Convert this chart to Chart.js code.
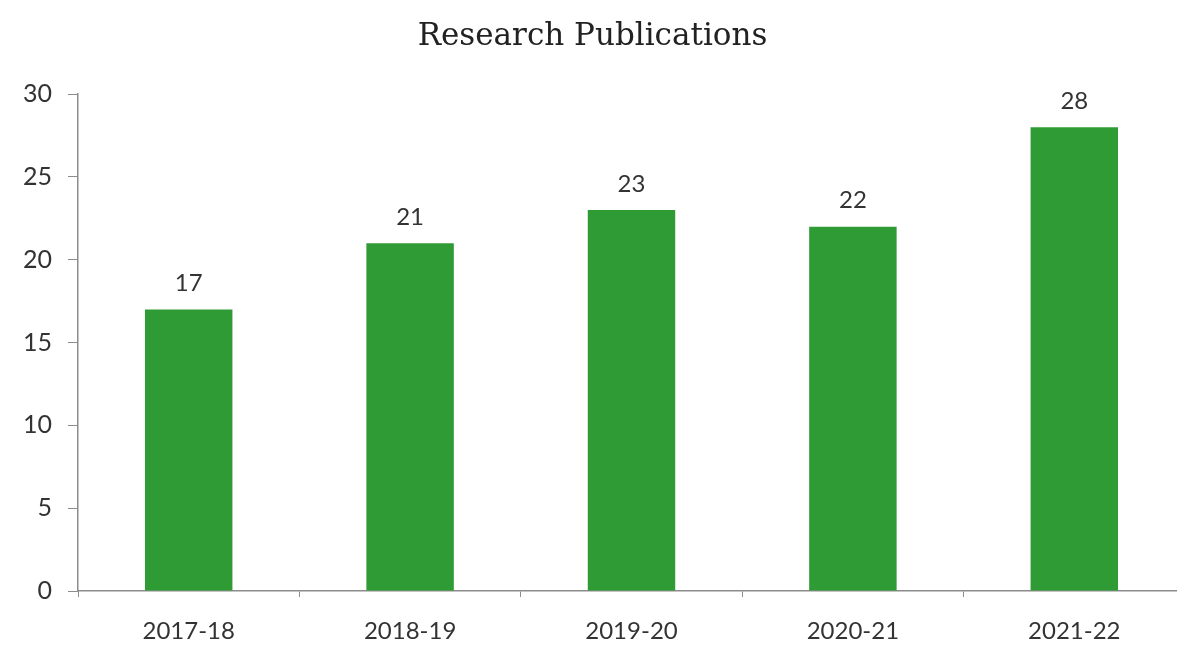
<!DOCTYPE html>
<html>
<head>
<meta charset="utf-8">
<script src="https://cdn.jsdelivr.net/npm/chart.js@4/dist/chart.umd.min.js"></script>
<style>
  html, body { margin: 0; padding: 0; background: #fff; overflow: hidden; }
  #wrap { width: 1185px; height: 646px; }
</style>
</head>
<body>
<div id="wrap"><canvas id="pubChart"></canvas></div>
<script>
// data
const years = ["2017-18", "2018-19", "2019-20", "2020-21", "2021-22"];
const publications = [17, 21, 23, 22, 28];
const yTicks = [0, 5, 10, 15, 20, 25, 30];

const barGreen = "#2f9b35";
const textColor = "#333333";
const axisColor = "#8c8c8c";

// simple value labels above each bar (no datalabels plugin offline)
const barValueLabels = {
  id: "barValueLabels",
  afterDatasetsDraw(chart) {
    const ctx = chart.ctx;
    const meta = chart.getDatasetMeta(0);
    ctx.save();
    ctx.font = "24px Lato";
    ctx.fillStyle = textColor;
    ctx.textAlign = "center";
    ctx.textBaseline = "bottom";
    meta.data.forEach((bar, i) => {
      ctx.fillText(chart.data.datasets[0].data[i], bar.x, bar.y - 14);
    });
    ctx.restore();
  }
};

new Chart(document.getElementById("pubChart"), {
  type: "bar",
  data: {
    labels: years,
    datasets: [{
      label: "Research Publications",
      data: publications,
      backgroundColor: barGreen,
      borderWidth: 0,
      barPercentage: 0.395,
      categoryPercentage: 1
    }]
  },
  options: {
    responsive: true,
    maintainAspectRatio: false,
    animation: false,
    devicePixelRatio: 1,
    layout: { padding: 0 },
    plugins: {
      legend: { display: false },
      tooltip: { enabled: false },
      title: {
        display: true,
        text: "Research Publications",
        color: "#222222",
        font: { family: "DejaVu Serif", size: 31, weight: "normal" },
        padding: { top: 18, bottom: 39 }
      }
    },
    scales: {
      x: {
        offset: true,
        grid: {
          display: true,
          drawOnChartArea: false,
          drawTicks: true,
          tickLength: 6,
          color: axisColor,
          offset: true
        },
        border: { display: true, color: axisColor, width: 1.5 },
        ticks: {
          color: textColor,
          font: { family: "Lato", size: 24 },
          padding: 20,
          maxRotation: 0
        },
        afterFit: s => { s.height = 55; }
      },
      y: {
        min: 0,
        max: 30,
        afterBuildTicks: s => { s.ticks = yTicks.map(v => ({ value: v })); },
        grid: {
          display: true,
          drawOnChartArea: false,
          drawTicks: true,
          tickLength: 10,
          color: axisColor
        },
        border: { display: true, color: axisColor, width: 1.5 },
        ticks: {
          color: textColor,
          font: { family: "Lato", size: 25 },
          padding: 16
        },
        afterFit: s => { s.width = 78; }
      }
    }
  },
  plugins: [barValueLabels]
});
</script>
</body>
</html>
